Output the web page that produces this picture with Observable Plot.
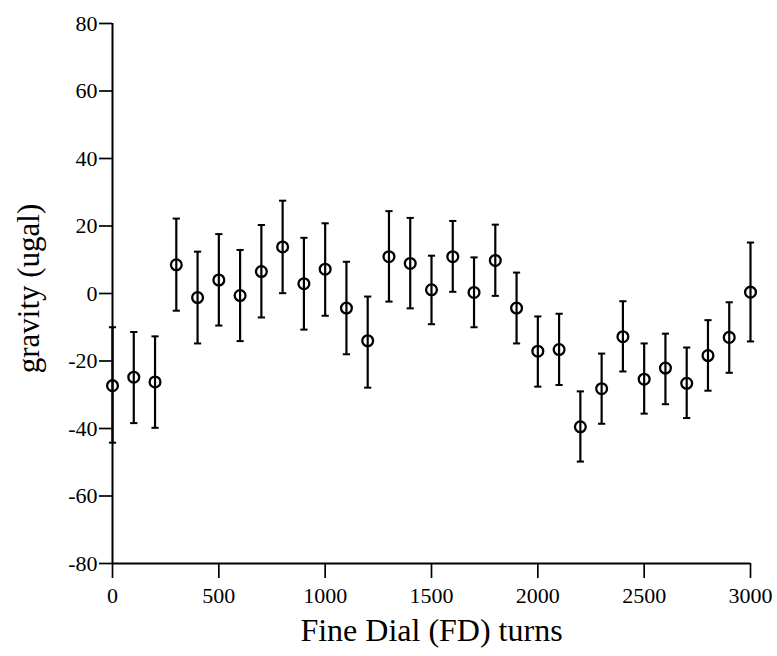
<!DOCTYPE html>
<html>
<head>
<meta charset="utf-8">
<script src="https://cdn.jsdelivr.net/npm/d3@7"></script>
<script src="https://cdn.jsdelivr.net/npm/@observablehq/plot@0.6"></script>
<style>
  html, body { margin: 0; padding: 0; background: #fff; }
  #chart svg { display: block; }
  #chart svg g[aria-label$="tick label"],
  #chart svg g[aria-label$="tick label"] text,
  #chart svg g[aria-label$="axis"] text { font-size: 22px !important; fill: #000; }
  #chart svg g[aria-label$="tick"] path,
  #chart svg g[aria-label$="axis"] line { stroke-width: 1.7px; stroke: #000; }
</style>
</head>
<body>
<div id="chart"></div>
<script>
// Fine Dial (FD) turns
const turns = [0, 100, 200, 300, 400, 500, 600, 700, 800, 900, 1000,
  1100, 1200, 1300, 1400, 1500, 1600, 1700, 1800, 1900, 2000,
  2100, 2200, 2300, 2400, 2500, 2600, 2700, 2800, 2900, 3000];
// gravity (ugal)
const gravity = [-27.3, -24.8, -26.2, 8.5, -1.2, 4.0, -0.6, 6.5, 13.8, 2.9, 7.2,
  -4.3, -14.0, 10.9, 8.9, 1.1, 10.9, 0.3, 9.8, -4.3, -17.1,
  -16.6, -39.5, -28.2, -12.8, -25.4, -22.1, -26.6, -18.4, -13.0, 0.4];
const errHigh = [-10.0, -11.4, -12.7, 22.2, 12.4, 17.6, 12.9, 20.3, 27.5, 16.5, 20.8,
  9.4, -0.9, 24.4, 22.4, 11.2, 21.5, 10.7, 20.4, 6.2, -6.8,
  -6.0, -29.0, -17.8, -2.3, -14.8, -11.9, -16.0, -7.9, -2.6, 15.1];
const errLow = [-44.2, -38.4, -39.8, -5.1, -14.8, -9.5, -14.1, -7.1, 0.1, -10.7, -6.6,
  -18.0, -27.9, -2.4, -4.4, -9.1, 0.5, -10.0, -0.7, -14.8, -27.6,
  -27.1, -49.8, -38.6, -23.1, -35.6, -32.8, -36.9, -28.8, -23.5, -14.2];
const xTicks = [0, 500, 1000, 1500, 2000, 2500, 3000];
const yTicks = [-80, -60, -40, -20, 0, 20, 40, 60, 80];

const data = turns.map((t, i) => ({x: t, y: gravity[i], hi: errHigh[i], lo: errLow[i]}));

const capSymbol = {
  draw(context, size) {
    const w = 3.6;
    context.moveTo(-w, 0);
    context.lineTo(w, 0);
  }
};

const chart = Plot.plot({
  width: 777,
  height: 656,
  marginLeft: 112,
  marginRight: 27,
  marginTop: 23,
  marginBottom: 93,
  style: {
    fontFamily: "'Liberation Serif', 'Times New Roman', serif",
    fontSize: "22px",
    color: "#000",
    background: "#fff"
  },
  x: {
    domain: [0, 3000],
    ticks: xTicks,
    tickSize: 15,
    tickPadding: 9,
    tickFormat: d => `${d}`,
    label: null
  },
  y: {
    domain: [-80, 80],
    ticks: yTicks,
    tickSize: 13,
    tickPadding: 2,
    tickFormat: d => `${d}`,
    label: null
  },
  marks: [
    Plot.ruleX([0], {stroke: "#000", strokeWidth: 2}),
    Plot.ruleY([-80], {stroke: "#000", strokeWidth: 2}),
    Plot.ruleX(data, {x: "x", y1: "lo", y2: "hi", stroke: "#000", strokeWidth: 2.2}),
    Plot.dot(data, {x: "x", y: "hi", symbol: capSymbol, stroke: "#000", strokeWidth: 2, fill: "none"}),
    Plot.dot(data, {x: "x", y: "lo", symbol: capSymbol, stroke: "#000", strokeWidth: 2, fill: "none"}),
    Plot.dot(data, {x: "x", y: "y", r: 5.4, stroke: "#000", strokeWidth: 2.3, fill: "none"}),
    Plot.text(["gravity (ugal)"], {frameAnchor: "left", textAnchor: "middle", dx: -83, dy: -5, rotate: -90, fontSize: 31, fill: "#000"}),
    Plot.text(["Fine Dial (FD) turns"], {frameAnchor: "bottom", dy: 77, fontSize: 32, fill: "#000"})
  ]
});

document.getElementById("chart").appendChild(chart);
</script>
</body>
</html>
